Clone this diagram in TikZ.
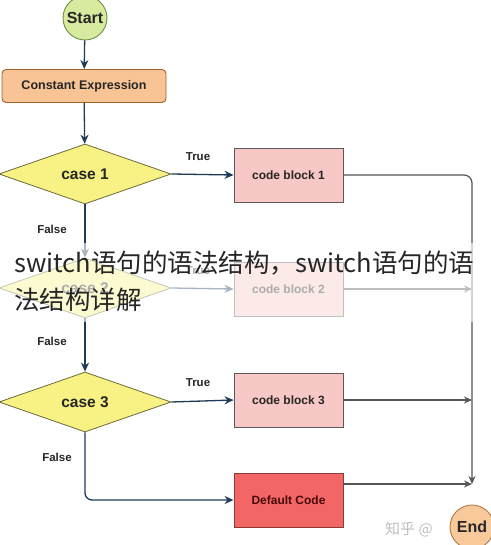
\documentclass[tikz,border=0pt]{standalone}
\usepackage{fontspec}
\setmainfont{Liberation Sans}
\newfontfamily\cjk{Noto Sans CJK SC}
\usetikzlibrary{shapes.geometric,arrows.meta}
\definecolor{navy}{HTML}{1F3B57}
\definecolor{conn}{HTML}{555555}
\definecolor{startfill}{HTML}{D8EAA0}
\definecolor{startdraw}{HTML}{6E8F45}
\definecolor{constfill}{HTML}{F8C496}
\definecolor{constdraw}{HTML}{A0632A}
\definecolor{diafill}{HTML}{F8F284}
\definecolor{diadraw}{HTML}{6A6A3A}
\definecolor{codefill}{HTML}{F8C8C6}
\definecolor{codedraw}{HTML}{5A5A5A}
\definecolor{deffill}{HTML}{F26666}
\definecolor{defdraw}{HTML}{8A3A38}
\definecolor{deftext}{HTML}{4A0A0A}
\definecolor{endfill}{HTML}{F8C99A}
\definecolor{enddraw}{HTML}{B07A4A}
\tikzset{
  x=1pt,y=-1pt,
  every node/.style={font=\bfseries, text=black!85},
  circ/.style={circle, draw=#1, line width=0.9pt, minimum size=44pt, inner sep=0pt, font=\bfseries\fontsize{16}{18}\selectfont},
  constbox/.style={rounded corners=4pt, draw=constdraw, fill=constfill, line width=0.9pt, minimum width=164pt, minimum height=33pt, font=\bfseries\fontsize{12.5}{14}\selectfont},
  casebox/.style={diamond, draw=diadraw, fill=diafill, line width=0.8pt, minimum width=172pt, minimum height=60pt, inner sep=0pt, font=\bfseries\fontsize{15.5}{17}\selectfont},
  codebox/.style={draw=codedraw, fill=codefill, line width=0.9pt, minimum width=109pt, minimum height=54pt, font=\bfseries\fontsize{12}{14}\selectfont},
  lbl/.style={font=\bfseries\fontsize{11.5}{13}\selectfont},
  navyarrow/.style={draw=navy, line width=1.3pt, -{Stealth[length=9pt,width=8pt]}},
  grayarrow/.style={draw=conn, line width=1.2pt, -{Stealth[length=8pt,width=7pt]}},
}
\begin{document}
\begin{tikzpicture}
\useasboundingbox (0,0) rectangle (490,545);
\fill[white] (0,0) rectangle (490,545);

% nodes
\node[circ=startdraw, fill=startfill] (start) at (85,18) {Start};
\node[constbox] (const) at (84,86) {Constant Expression};
\node[casebox] (c1) at (85,174) {case 1};
\node[casebox] (c2) at (85,288) {case 2};
\node[casebox] (c3) at (85,402) {case 3};
\node[codebox] (b1) at (288.5,175) {code block 1};
\node[codebox] (b2) at (288.5,289) {code block 2};
\node[codebox] (b3) at (288.5,400) {code block 3};
\node[codebox, draw=defdraw, fill=deffill, text=deftext] (def) at (288.5,500) {Default Code};
\node[circ=enddraw, fill=endfill] (end) at (472,527) {End};

\coordinate (rail) at (472,175);
\coordinate (railend) at (472,484);
\coordinate (c3low) at (85,500);

% left column
\draw[navyarrow] (start) -- (const);
\draw[navyarrow] (const) -- (c1);
\draw[navyarrow] (c1) -- (c2);
\draw[navyarrow] (c2) -- (c3);
\draw[navyarrow, rounded corners=7pt] (c3.south) -- (c3low) -- (def.west);

% true arrows
\draw[navyarrow] (c1.east) -- (b1.west);
\draw[navyarrow] (c2.east) -- (b2.west);
\draw[navyarrow] (c3.east) -- (b3.west);

% right rail
\draw[grayarrow, rounded corners=8pt] (b1.east) -- (rail) -- (railend);
\draw[grayarrow] (b2.east) -- (b2.east -| rail);
\draw[grayarrow] (b3.east) -- (b3.east -| rail);
\draw[grayarrow] (def.east |- railend) -- (railend);

% labels
\node[lbl] (t1) at (198,157) {True};
\node[lbl] (t2) at (198,271) {True};
\node[lbl] (t3) at (198,383) {True};
\node[lbl] (f1) at (52,229) {False};
\node[lbl] (f2) at (52,341) {False};
\node[lbl] (f3) at (57,457) {False};

% overlay band and caption
\fill[white, opacity=0.62] (0,243) rectangle (490,322);
\node[anchor=base west, inner sep=0pt, font=\cjk\fontsize{25.5}{30}\selectfont, text=black!85] (cap1) at (14,272) {switch语句的语法结构，switch语句的语};
\node[anchor=base west, inner sep=0pt, font=\cjk\fontsize{25.5}{30}\selectfont, text=black!85] (cap2) at (14,309) {法结构详解};
\node[anchor=west, inner sep=0pt, font=\cjk\fontsize{15}{17}\selectfont, text=black!25] (wm) at (385,529) {知乎 @};
\end{tikzpicture}
\end{document}
